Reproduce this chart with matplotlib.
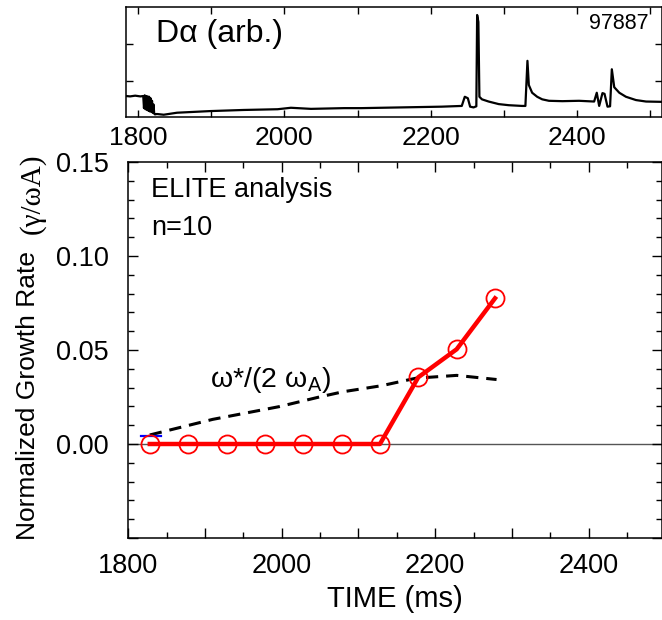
import matplotlib
matplotlib.use("Agg")
import matplotlib.pyplot as plt
from matplotlib.ticker import MultipleLocator, FuncFormatter

plt.rcParams["font.family"] = ["Liberation Sans", "DejaVu Sans"]

# Dα trace (top panel)
DA_TIME = [1783.5, 1789, 1796, 1803, 1807,
           1808, 1809, 1810, 1811, 1812, 1813, 1814, 1815, 1816, 1817,
           1818, 1819, 1820, 1821, 1822, 1823,
           1825.7, 1835, 1853.2, 1899, 1944.3, 1990.7, 2008.9, 2036.4, 2081.8,
           2105.2, 2160.1, 2187.6, 2215.1, 2242.6, 2246.7, 2250.9, 2254, 2258.7,
           2262.5, 2263.6, 2265.3, 2266.7, 2270.2, 2279.3, 2293.1, 2306.8, 2325.1,
           2329.6, 2332.4, 2334.3, 2338.8, 2345.7, 2352.6, 2361.8, 2380.1, 2403,
           2423.6, 2427.2, 2430.5, 2435, 2437.8, 2441.9, 2445.4, 2447.8, 2451.1,
           2458, 2467.1, 2480.8, 2494.6, 2519.9]
DA_VALUE = [0.58, 0.57, 0.59, 0.57, 0.58,
            0.25, 0.60, 0.22, 0.58, 0.20, 0.57, 0.18, 0.56, 0.16, 0.52,
            0.15, 0.45, 0.12, 0.35, 0.10, 0.08,
            0.09, 0.07, 0.125, 0.17, 0.20, 0.22, 0.26, 0.23, 0.25,
            0.25, 0.27, 0.28, 0.29, 0.31, 0.56, 0.52, 0.29, 0.27,
            0.30, 2.79, 2.60, 0.56, 0.49, 0.43, 0.36, 0.33, 0.31,
            0.31, 1.54, 0.88, 0.67, 0.56, 0.49, 0.45, 0.44, 0.45,
            0.43, 0.67, 0.31, 0.66, 0.64, 0.29, 0.30, 1.31, 0.82,
            0.67, 0.56, 0.47, 0.43, 0.42]

# ELITE growth rate, n=10
TIME = [1828, 1878, 1928, 1978, 2028, 2078, 2128, 2178, 2228, 2278]
GROWTH = [0.0, 0.0, 0.0, 0.0, 0.0, 0.0, 0.0, 0.0355, 0.0504, 0.0775]

# omega*/(2 omega_A) dashed curve
WSTAR_TIME = [1828, 1910, 1997, 2049, 2080, 2130, 2175, 2228, 2280]
WSTAR_VALUE = [0.0048, 0.0131, 0.0199, 0.025, 0.0278, 0.031, 0.035, 0.0365, 0.0343]

# short blue mark at the start
BLUE_TIME = [1816, 1842]
BLUE_VALUE = [0.0045, 0.0045]


def every_200(v, p):
    return f"{v:.0f}" if round(v) % 200 == 0 else ""


W, H = 662, 620
fig = plt.figure(figsize=(W / 100, H / 100), dpi=100)

# --- top panel: D-alpha ---
ax_top = fig.add_axes([125.7 / W, 1 - 117.3 / H, (661.7 - 125.7) / W, 110 / H])
ax_top.plot(DA_TIME, DA_VALUE, color="black", linewidth=1.6)
ax_top.set_xlim(1783, 2516)
ax_top.set_ylim(0, 3)
ax_top.xaxis.set_major_locator(MultipleLocator(100))
ax_top.xaxis.set_major_formatter(FuncFormatter(every_200))
ax_top.set_yticks([1, 2])
ax_top.set_yticklabels([])
ax_top.tick_params(direction="in", top=True, right=True, length=5, width=1,
                   labelsize=19, pad=6)
for s in ax_top.spines.values():
    s.set_linewidth(1.1)
ax_top.text(0.057, 0.76, "D\u03b1 (arb.)", transform=ax_top.transAxes, fontsize=23,
            va="center", ha="left")
ax_top.text(0.975, 0.85, "97887", transform=ax_top.transAxes, fontsize=15.5,
            va="center", ha="right")

# --- main panel: growth rate ---
ax = fig.add_axes([128.3 / W, 1 - 538 / H, (661.5 - 128.3) / W, 376 / H])
ax.axhline(0, color="#555555", linewidth=1.0, zorder=1)
ax.plot(WSTAR_TIME, WSTAR_VALUE, color="black", linestyle=(0, (4, 2.6)), linewidth=2.2, zorder=2)
ax.plot(BLUE_TIME, BLUE_VALUE, color="blue", linewidth=1.6, zorder=2)
ax.plot(TIME, GROWTH, color="red", linewidth=3.2, marker="o", markersize=13,
        markerfacecolor="none", markeredgecolor="red", markeredgewidth=1.3, zorder=3)

ax.set_xlim(1800, 2495)
ax.set_ylim(-0.05, 0.15)
ax.xaxis.set_major_locator(MultipleLocator(100))
ax.xaxis.set_minor_locator(MultipleLocator(50))
ax.xaxis.set_major_formatter(FuncFormatter(every_200))
ax.yaxis.set_major_locator(MultipleLocator(0.05))
ax.yaxis.set_minor_locator(MultipleLocator(0.01))
ax.yaxis.set_major_formatter(FuncFormatter(lambda v, p: f"{v:.2f}" if v >= -0.001 else ""))
ax.tick_params(which="both", direction="in", top=True, right=True, width=1)
ax.tick_params(which="major", length=7, labelsize=19.5)
ax.tick_params(axis="y", which="major", pad=14)
ax.tick_params(axis="x", which="major", pad=11)
ax.tick_params(which="minor", length=4)
for s in ax.spines.values():
    s.set_linewidth(1.1)

ax.set_xlabel("TIME (ms)", fontsize=21, labelpad=4)

ax.text(0.043, 0.907, "ELITE analysis", transform=ax.transAxes, fontsize=19.5,
        va="baseline", ha="left")
ax.text(0.043, 0.806, "n=10", transform=ax.transAxes, fontsize=19.5,
        va="baseline", ha="left")
ax.text(1906, 0.0305, "\u03c9*/(2 \u03c9$_\\mathregular{A}$)",
        fontsize=20.5, va="baseline", ha="left")

# y label: sans part + serif symbol part
fig.text(28 / W, 1 - 395 / H, "Normalized Growth Rate", rotation=90, fontsize=19,
         va="center", ha="center")
fig.text(32 / W, 1 - 194 / H, "(\u03b3/\u03c9A)", rotation=90, fontsize=21,
         va="center", ha="center", family=["Liberation Serif", "DejaVu Serif"])

fig.savefig("out.png", dpi=100)
